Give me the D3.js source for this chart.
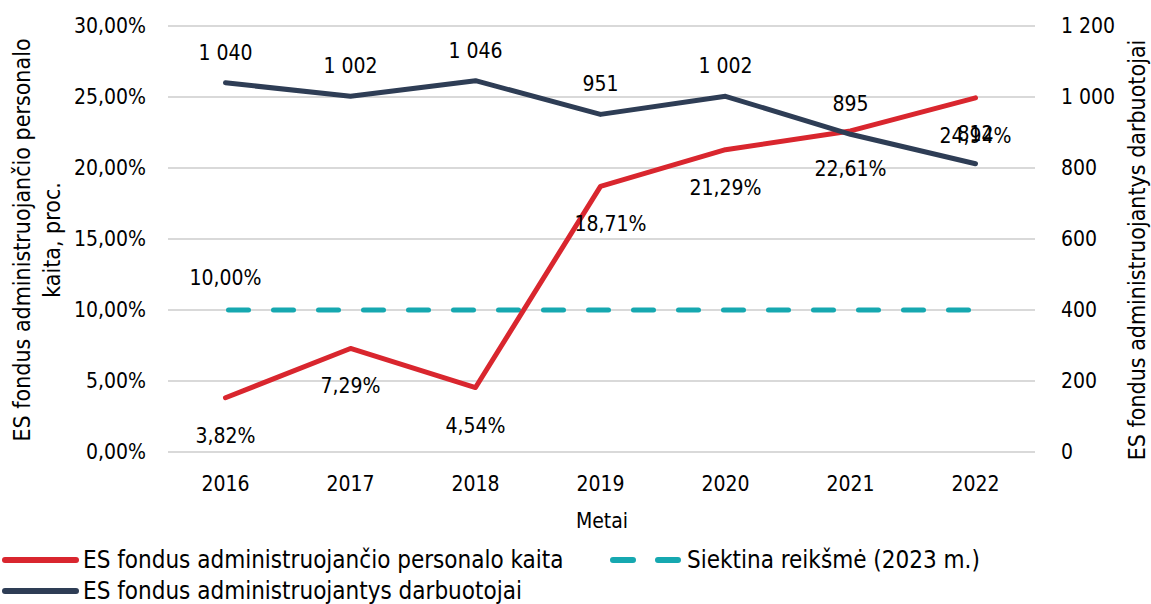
<!DOCTYPE html>
<html>
<head>
<meta charset="utf-8">
<script src="https://cdnjs.cloudflare.com/ajax/libs/d3/7.8.5/d3.min.js"></script>
<style>
  body { margin: 0; background: #fff; }
  text { font-family: "DejaVu Sans Condensed", "DejaVu Sans", sans-serif; fill: #000; }
</style>
</head>
<body>
<svg id="chart" width="1151" height="604"></svg>
<script>
var years = ["2016", "2017", "2018", "2019", "2020", "2021", "2022"];
var kaita = [3.82, 7.29, 4.54, 18.71, 21.29, 22.61, 24.94];
var darbuotojai = [1040, 1002, 1046, 951, 1002, 895, 812];
var siektina = [10, 10, 10, 10, 10, 10, 10];
var leftTicks = [0, 5, 10, 15, 20, 25, 30];
var rightTicks = [0, 200, 400, 600, 800, 1000, 1200];

var red = "#d9262e", navy = "#2e3d55", teal = "#16a8b0";
var svg = d3.select("#chart");

var x = d3.scaleBand().domain(years).range([163, 1038]);
var yL = d3.scaleLinear().domain([0, 30]).range([452, 26]);
var yR = d3.scaleLinear().domain([0, 1200]).range([452, 26]);
var cx = d => x(d) + x.bandwidth() / 2;

var pct = v => d3.format(".2f")(v).replace(".", ",") + "%";
var num = v => d3.format(",")(v).replace(",", " ");

// gridlines
svg.append("g").selectAll("line").data(leftTicks).enter().append("line")
  .attr("x1", 168).attr("x2", 1035)
  .attr("y1", d => yL(d)).attr("y2", d => yL(d))
  .attr("stroke", "#d9d9d9").attr("stroke-width", 2);

// left axis
var gl = svg.append("g").attr("transform", "translate(146,0)")
  .call(d3.axisLeft(yL).tickValues(leftTicks).tickSize(0).tickPadding(0).tickFormat(pct));
gl.select(".domain").remove();
gl.selectAll("text").style("font-family", "DejaVu Sans Condensed").style("font-size", "21px");

// right axis
var gr = svg.append("g").attr("transform", "translate(1061,0)")
  .call(d3.axisRight(yR).tickValues(rightTicks).tickSize(0).tickPadding(0).tickFormat(num));
gr.select(".domain").remove();
gr.selectAll("text").style("font-family", "DejaVu Sans Condensed").style("font-size", "21px");

// x axis
var gx = svg.append("g").attr("transform", "translate(0,476)")
  .call(d3.axisBottom(x).tickSize(0).tickPadding(0));
gx.select(".domain").remove();
gx.selectAll("text").style("font-family", "DejaVu Sans Condensed").style("font-size", "21px");

// axis titles
svg.append("text").attr("transform", "translate(602,528)").attr("text-anchor", "middle")
  .style("font-size", "21px").text("Metai");
svg.append("text").attr("transform", "translate(30,240) rotate(-90)").attr("text-anchor", "middle")
  .style("font-size", "23px").text("ES fondus administruojančio personalo");
svg.append("text").attr("transform", "translate(60,240) rotate(-90)").attr("text-anchor", "middle")
  .style("font-size", "23px").text("kaita, proc.");
svg.append("text").attr("transform", "translate(1145,250) rotate(-90)").attr("text-anchor", "middle")
  .style("font-size", "23px").text("ES fondus administruojantys darbuotojai");

// lines
var lineL = d3.line().x((d, i) => cx(years[i])).y(d => yL(d));
var lineR = d3.line().x((d, i) => cx(years[i])).y(d => yR(d));

svg.append("path").datum(siektina).attr("d", lineL).attr("fill", "none")
  .attr("stroke", teal).attr("stroke-width", 5).attr("stroke-linecap", "round")
  .attr("stroke-dasharray", "20 25").attr("transform", "translate(3,0)");
svg.append("path").datum(kaita).attr("d", lineL).attr("fill", "none")
  .attr("stroke", red).attr("stroke-width", 5).attr("stroke-linecap", "round").attr("stroke-linejoin", "round");
svg.append("path").datum(darbuotojai).attr("d", lineR).attr("fill", "none")
  .attr("stroke", navy).attr("stroke-width", 5).attr("stroke-linecap", "round").attr("stroke-linejoin", "round");

// data labels
var lab = svg.append("g").style("font-size", "21px").attr("text-anchor", "middle");
lab.selectAll(".lk").data(kaita).enter().append("text")
  .attr("x", (d, i) => cx(years[i]) + (i == 3 ? 10 : 0))
  .attr("y", d => yL(d) + 45)
  .text(pct);
lab.selectAll(".ld").data(darbuotojai).enter().append("text")
  .attr("x", (d, i) => cx(years[i]))
  .attr("y", d => yR(d) - 23)
  .text(num);
lab.append("text").attr("x", cx(years[0])).attr("y", yL(siektina[0]) - 25).text(pct(siektina[0]));

// legend
var legend = [
  { name: "ES fondus administruojančio personalo kaita", color: red, dash: null, x: 0, y: 560 },
  { name: "Siektina reikšmė (2023 m.)", color: teal, dash: "20 25", x: 610, y: 560 },
  { name: "ES fondus administruojantys darbuotojai", color: navy, dash: null, x: 0, y: 591 }
];
var lg = svg.append("g").selectAll("g").data(legend).enter().append("g")
  .attr("transform", d => "translate(" + d.x + "," + d.y + ")");
lg.append("line").attr("x1", d => d.dash ? 3 : 5).attr("x2", d => d.dash ? 68 : 76)
  .attr("stroke", d => d.color).attr("stroke-width", 6).attr("stroke-linecap", "round")
  .attr("stroke-dasharray", d => d.dash);
lg.append("text").attr("x", d => d.dash ? 77 : 83).attr("y", 8)
  .style("font-size", "24px").text(d => d.name);
</script>
</body>
</html>
